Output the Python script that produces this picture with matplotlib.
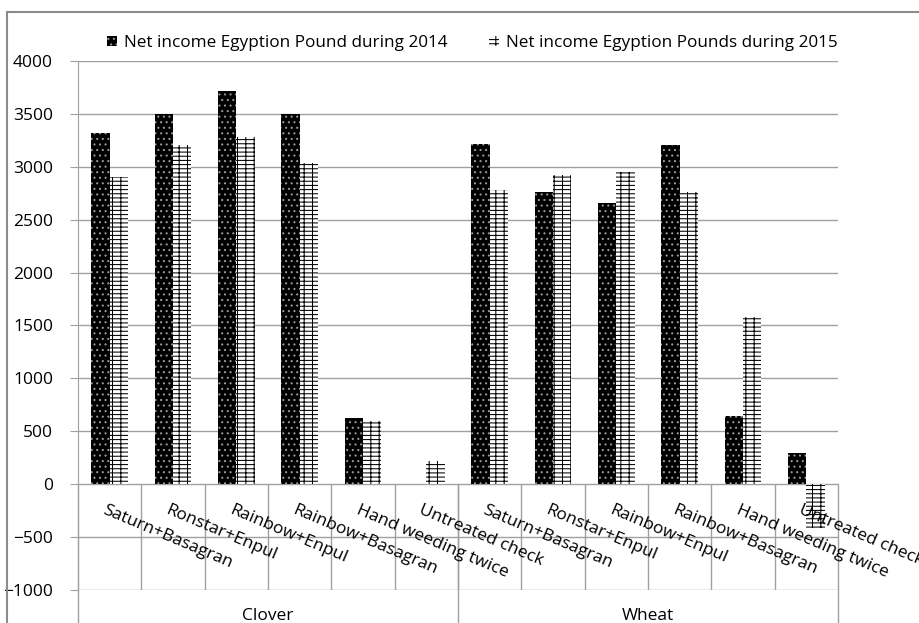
import numpy as np
import matplotlib.pyplot as plt
from matplotlib.patches import Rectangle

crops = ['Clover', 'Wheat']
treatments = ['Saturn+Basagran', 'Ronstar+Enpul', 'Rainbow+Enpul',
              'Rainbow+Basagran', 'Hand weeding twice', 'Untreated check']

# net income, Egyptian pounds
clover_2014 = [3320, 3500, 3720, 3500, 622, 0]
clover_2015 = [2900, 3210, 3280, 3040, 600, 224]
wheat_2014 = [3220, 2760, 2655, 3210, 644, 297]
wheat_2015 = [2780, 2920, 2950, 2765, 1584, -414]

label_2014 = 'Net income Egyption Pound during 2014'
label_2015 = 'Net income Egyption Pounds during 2015'

plt.rcParams['font.family'] = ['Open Sans', 'DejaVu Sans']
plt.rcParams['hatch.linewidth'] = 0.75

v2014 = clover_2014 + wheat_2014
v2015 = clover_2015 + wheat_2015
labels = treatments + treatments
x = np.arange(len(labels))
w = 0.29

fig = plt.figure(figsize=(9.2, 6.23), dpi=100)
ax = fig.add_axes([78/920, 1 - 590/623, 760/920, 529/623])

grid_c = '#a0a0a0'
ax.bar(x - w/2, v2014, w, color='black', edgecolor='#9a9a9a', hatch='...',
       linewidth=0, label=label_2014, zorder=3)
ax.bar(x + w/2, v2015, w, color='white', edgecolor='black', hatch='----||',
       linewidth=0, label=label_2015, zorder=3)

ax.set_xlim(-0.5, len(labels) - 0.5)
ax.set_ylim(-1000, 4000)
ax.set_yticks(np.arange(-1000, 4001, 500))
ax.set_xticks([])
ax.yaxis.grid(True, color=grid_c, linewidth=1)
ax.set_axisbelow(True)
for s in ['top', 'right', 'bottom']:
    ax.spines[s].set_visible(False)
ax.spines['left'].set_color(grid_c)
ax.tick_params(axis='y', length=6, color=grid_c, pad=12, labelsize=12.5)

# category boundaries below the zero line
ax.vlines(x[:-1] + 0.5, -1000, 0, color=grid_c, linewidth=1, zorder=2)
tr = ax.get_xaxis_transform()
for xb in [-0.5, 5.5, 11.5]:
    ax.plot([xb, xb], [0.2, -0.2], transform=tr, color=grid_c,
            linewidth=1, clip_on=False, zorder=2)

for i, lab in enumerate(labels):
    ax.text(i - 0.05, -170, lab, rotation=-23, rotation_mode='anchor',
            ha='left', va='top', fontsize=12.5, zorder=4)

for j, crop in enumerate(crops):
    ax.text(j * 6 + 2.5, -0.05, crop, transform=tr, ha='center',
            va='center', fontsize=12.5)

ax.legend(loc='center left', bbox_to_anchor=(107/920, 1 - 43/623),
          bbox_transform=fig.transFigure, ncol=2, frameon=False,
          fontsize=12.3, handlelength=0.6, handleheight=0.6,
          handletextpad=0.4, columnspacing=2.4, borderpad=0,
          borderaxespad=0)

fig.patches.append(Rectangle((7/920, -0.1), 2, 1 - 12/623 + 0.1,
                             transform=fig.transFigure, fill=False,
                             edgecolor='#8c8c8c', linewidth=1.5))

fig.savefig('out.png', dpi=100)
